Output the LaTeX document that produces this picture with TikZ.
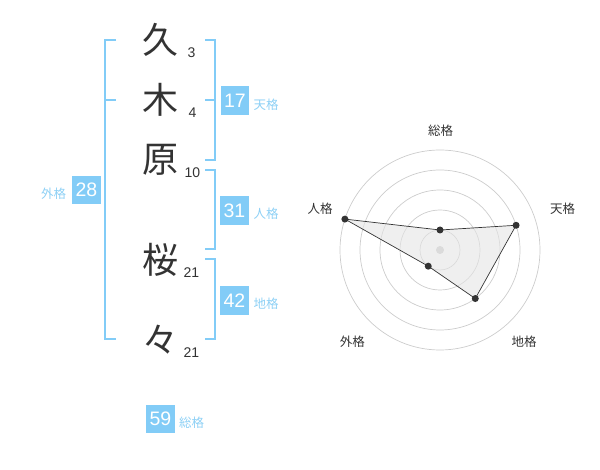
\documentclass[tikz,border=0pt]{standalone}
\usepackage{fontspec}
\setmainfont{Liberation Sans}
\newfontfamily\cjk{Noto Sans CJK JP}
\definecolor{kblue}{HTML}{82CCF7}
\definecolor{klabel}{HTML}{8DD0F5}
\definecolor{kdark}{HTML}{333333}
\definecolor{kgrid}{HTML}{CCCCCC}
\tikzset{
  kanji/.style={inner sep=0pt, text=kdark, font=\cjk\fontsize{36}{36}\selectfont},
  strokes/.style={inner sep=0pt, text=kdark, font=\fontsize{14}{14}\selectfont},
  numbox/.style={fill=kblue, text=white, minimum width=28.5pt, minimum height=28.5pt, inner sep=0pt, font=\fontsize{19.5}{19.5}\selectfont},
  kaku/.style={inner sep=0pt, text=klabel, font=\cjk\fontsize{12.5}{12.5}\selectfont},
  rlabel/.style={inner sep=0pt, text=kdark, font=\cjk\fontsize{12.5}{12.5}\selectfont},
  brk/.style={draw=kblue, line width=2pt},
  grid/.style={draw=kgrid, line width=0.7pt},
  dot/.style={circle, fill=kdark, inner sep=0pt, minimum size=7pt},
}
\begin{document}
\begin{tikzpicture}[x=1pt, y=-1pt]
\useasboundingbox (0,0) rectangle (600,470);
% name characters
\node[kanji] (c1) at (160,40) {久};
\node[kanji] (c2) at (160,100) {木};
\node[kanji] (c3) at (160,159.5) {原};
\node[kanji] (c4) at (160,260) {桜};
\node[kanji] (c5) at (160,340) {々};
\node[strokes] (s1) at (191.5,53) {3};
\node[strokes] (s2) at (192.5,112.5) {4};
\node[strokes] (s3) at (192.5,172.5) {10};
\node[strokes] (s4) at (191.5,273) {21};
\node[strokes] (s5) at (191.5,353) {21};
% brackets
\draw[brk] (116,40) -- (105,40) -- (105,339.5) -- (116,339.5);
\draw[brk] (105,100) -- (116,100);
\draw[brk] (205,40) -- (215,40) -- (215,160) -- (205,160);
\draw[brk] (205,100) -- (215,100);
\draw[brk] (205,170) -- (215,170) -- (215,249.5) -- (205,249.5);
\draw[brk] (205,259.5) -- (215,259.5) -- (215,339.5) -- (205,339.5);
% boxes and labels
\node[numbox] (b17) at (235,100.5) {17};
\node[kaku] (l17) at (266,104.5) {天格};
\node[numbox] (b31) at (234.5,210.5) {31};
\node[kaku] (l31) at (266,214) {人格};
\node[numbox] (b42) at (234.5,300.5) {42};
\node[kaku] (l42) at (266,304) {地格};
\node[numbox] (b28) at (86.5,190) {28};
\node[kaku] (l28) at (53.5,193.5) {外格};
\node[numbox] (b59) at (160.5,419) {59};
\node[kaku] (l59) at (191.5,423) {総格};
% radar chart
\begin{scope}[shift={(440,250)}]
  \foreach \r in {20,40,60,80,100} \draw[grid] (0,0) circle[radius=\r];
  \fill[kgrid] (0,0) circle[radius=4];
  \coordinate (pS) at (-90:20);
  \coordinate (pT) at (-18:80);
  \coordinate (pC) at (54:60);
  \coordinate (pG) at (126:20);
  \coordinate (pJ) at (198:100);
  \filldraw[fill=black!10, fill opacity=0.6, draw=kdark, line width=0.7pt]
    (pS) -- (pT) -- (pC) -- (pG) -- (pJ) -- cycle;
  \foreach \p in {pS,pT,pC,pG,pJ} \node[dot] at (\p) {};
\end{scope}
\node[rlabel] (rS) at (440.7,130.7) {総格};
\node[rlabel] (rT) at (562.7,208.3) {天格};
\node[rlabel] (rJ) at (320,209) {人格};
\node[rlabel] (rG) at (352.3,341.7) {外格};
\node[rlabel] (rC) at (524,341.7) {地格};
\end{tikzpicture}
\end{document}
